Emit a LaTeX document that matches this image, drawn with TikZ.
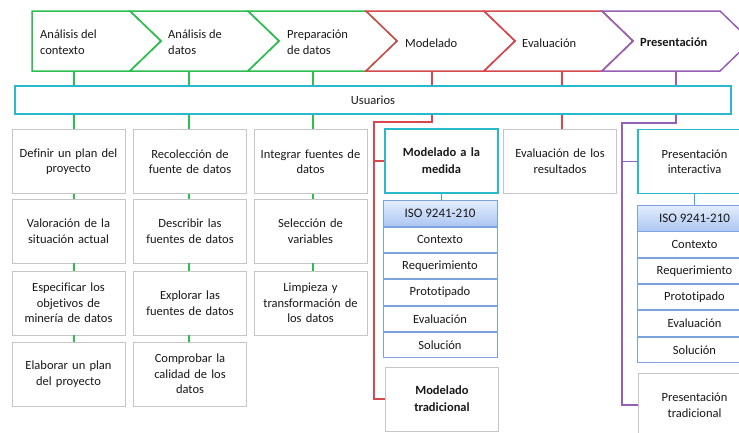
\documentclass[tikz,border=0pt]{standalone}
\usepackage{fontspec}
\setmainfont{Carlito}[Ligatures={NoCommon,NoRequired,NoContextual}]
\definecolor{greenc}{RGB}{45,190,80}
\definecolor{redc}{RGB}{214,72,78}
\definecolor{purplec}{RGB}{150,95,182}
\definecolor{cyanc}{RGB}{40,185,205}
\definecolor{isob}{RGB}{125,163,222}
\definecolor{isot}{RGB}{228,237,252}
\definecolor{isobot}{RGB}{172,198,242}
\definecolor{txt}{RGB}{25,25,25}
\begin{document}
\begin{tikzpicture}[x=1pt,y=-1pt,
  fnt/.style={font=\fontsize{12.5}{15.5}\selectfont, text=txt},
  lbl/.style={fnt, align=left, anchor=west, inner sep=0pt},
  gbox/.style={fnt, draw=gray!45, line width=0.9pt, fill=white, minimum width=113pt, minimum height=64pt, text width=106pt, align=center, inner sep=0pt},
  cbox/.style={gbox, draw=cyanc, line width=1.5pt},
  isoh/.style={fnt, font=\fontsize{13}{15.5}\selectfont, draw=isob, line width=0.9pt, top color=isot, bottom color=isobot, minimum width=114pt, minimum height=25.5pt, inner sep=0pt},
  isor/.style={fnt, draw=isob, line width=0.9pt, fill=white, minimum width=114pt, minimum height=25.4pt, inner sep=0pt, anchor=north},
  gline/.style={draw=greenc, line width=1.5pt},
  rline/.style={draw=redc, line width=1.5pt},
  pline/.style={draw=purplec, line width=1.5pt},
  cline/.style={draw=cyanc, line width=1.5pt},
  line join=miter]
\useasboundingbox (0,0) rectangle (739,432);

% chevrons
\draw[gline] (32,11) -- (130,11) -- (161,41) -- (130,71) -- (32,71) -- cycle;
\draw[gline] (130,11) -- (248,11) -- (279,41) -- (248,71) -- (130,71) -- (161,41) -- cycle;
\draw[gline] (248,11) -- (366,11) -- (397,41) -- (366,71) -- (248,71) -- (279,41) -- cycle;
\draw[rline] (366,11) -- (484,11) -- (515,41) -- (484,71) -- (366,71) -- (397,41) -- cycle;
\draw[rline] (484,11) -- (602,11) -- (633,41) -- (602,71) -- (484,71) -- (515,41) -- cycle;
\draw[pline] (602,11) -- (720,11) -- (751,41) -- (720,71) -- (602,71) -- (633,41) -- cycle;
\node[lbl] (c1) at (40,42) {Análisis del\\contexto};
\node[lbl] (c2) at (168,42) {Análisis de\\datos};
\node[lbl] (c3) at (287,42) {Preparación\\de datos};
\node[lbl] (c4) at (405,43) {Modelado};
\node[lbl] (c5) at (522,43) {Evaluación};
\node[lbl, font=\fontsize{12.5}{15.5}\selectfont\bfseries] (c6) at (640,42) {Presentación};

\coordinate (k1) at (74,71);
\coordinate (k2) at (189,71);
\coordinate (k3) at (313,71);
\coordinate (k4) at (432,71);
\coordinate (k5) at (562,71);
\coordinate (k6) at (676,71);

% users bar
\node[fnt, draw=cyanc, line width=1.5pt, minimum width=716pt, minimum height=28pt, inner sep=0pt] (bar) at (373,100) {Usuarios};

% column boxes
\node[gbox] (a1) at (68.5,161.5) {Definir un plan del\\proyecto};
\node[gbox] (a2) at (68.5,231) {Valoración de la\\situación actual};
\node[gbox] (a3) at (68.5,303) {Especificar los\\objetivos de\\minería de datos};
\node[gbox] (a4) at (68.5,374) {Elaborar un plan\\del proyecto};

\node[gbox] (b1) at (190,161.5) {Recolección de\\fuente de datos};
\node[gbox] (b2) at (190,231) {Describir las\\fuentes de datos};
\node[gbox] (b3) at (190,303) {Explorar las\\fuentes de datos};
\node[gbox] (b4) at (190,374) {Comprobar la\\calidad de los\\datos};

\node[gbox] (d1) at (310.5,161.5) {Integrar fuentes de\\datos};
\node[gbox] (d2) at (310.5,231) {Selección de\\variables};
\node[gbox] (d3) at (310.5,303) {Limpieza y\\transformación de\\los datos};

\node[cbox, font=\fontsize{12.5}{17}\selectfont\bfseries] (mm) at (441.5,161) {Modelado a la\\medida};
\node[isoh] (h1) at (440,213.5) {ISO 9241-210};
\node[isor] (m1) at (h1.south) {Contexto};
\node[isor] (m2) at (m1.south) {Requerimiento};
\node[isor] (m3) at (m2.south) {Prototipado};
\node[isor] (m4) at (m3.south) {Evaluación};
\node[isor] (m5) at (m4.south) {Solución};
\node[gbox, font=\fontsize{12.5}{17}\selectfont\bfseries] (mt) at (442,399) {Modelado\\tradicional};

\node[gbox] (er) at (560,161) {Evaluación de los\\resultados};

\node[cbox] (pi) at (694.5,161.5) {Presentación\\interactiva};
\node[isoh, minimum height=26pt] (h2) at (694.5,218) {ISO 9241-210};
\node[isor] (p1) at (h2.south) {Contexto};
\node[isor] (p2) at (p1.south) {Requerimiento};
\node[isor] (p3) at (p2.south) {Prototipado};
\node[isor] (p4) at (p3.south) {Evaluación};
\node[isor] (p5) at (p4.south) {Solución};
\node[gbox] (pt) at (694.5,405) {Presentación\\tradicional};

% green connectors
\foreach \k/\a/\b/\c/\d in {k1/a1/a2/a3/a4, k2/b1/b2/b3/b4}{
  \draw[gline] (\k) -- (\k |- bar.north);
  \draw[gline] (\k |- bar.south) -- (\k |- \a.north);
  \draw[gline] (\a.south -| \k) -- (\b.north -| \k);
  \draw[gline] (\b.south -| \k) -- (\c.north -| \k);
  \draw[gline] (\c.south -| \k) -- (\d.north -| \k);
}
\draw[gline] (k3) -- (k3 |- bar.north);
\draw[gline] (k3 |- bar.south) -- (k3 |- d1.north);
\draw[gline] (d1.south -| k3) -- (d2.north -| k3);
\draw[gline] (d2.south -| k3) -- (d3.north -| k3);

% red connectors
\coordinate (rj) at (374,122);
\draw[rline] (k4) -- (k4 |- bar.north);
\draw[rline] (k4 |- bar.south) -- (k4 |- rj) -- (rj) -- (rj |- mt.west) -- (mt.west);
\draw[rline] (rj |- mm.west) -- (mm.west);
\draw[rline] (k5) -- (k5 |- bar.north);
\draw[rline] (k5 |- bar.south) -- (k5 |- er.north);

% purple connectors
\coordinate (pj) at (622,123);
\draw[pline] (k6) -- (k6 |- bar.north);
\draw[pline] (k6 |- bar.south) -- (k6 |- pj) -- (pj) -- (pj |- pt.west) -- (pt.west);
\draw[pline] (pj |- pi.west) -- (pi.west);

% cyan connectors
\draw[cline] (mm.south) -- (mm.south |- h1.north);
\draw[cline] (pi.south) -- (pi.south |- h2.north);
\end{tikzpicture}
\end{document}
